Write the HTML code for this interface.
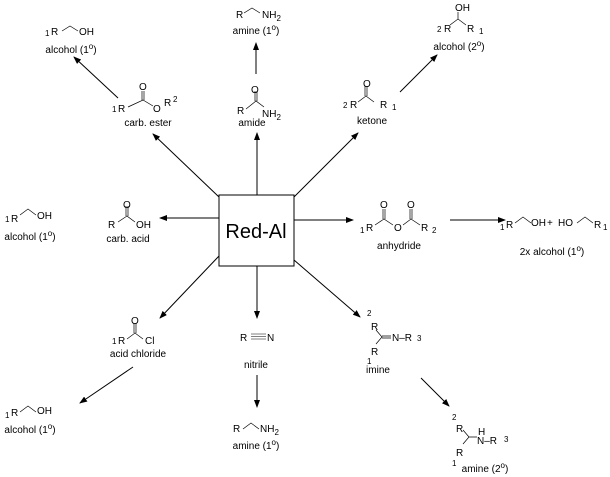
<!DOCTYPE html>
<html><head><style>
html,body{margin:0;padding:0;background:#fff;width:610px;height:477px;overflow:hidden}
svg{display:block}
text{font-family:"Liberation Sans",sans-serif;font-size:10px;fill:#000}
.s{font-size:8px}
</style></head><body>
<svg width="610" height="477" viewBox="0 0 610 477">
<defs><marker id="a" markerWidth="8" markerHeight="6" refX="7" refY="3" orient="auto" markerUnits="userSpaceOnUse"><path d="M0,0 L8,3 L0,6 z" fill="#000"/></marker></defs>
<g stroke="#000" stroke-width="1" fill="none">
<rect x="219" y="195" width="75" height="71" fill="#fff"/>
<line x1="219" y1="197" x2="153" y2="134" marker-end="url(#a)"/>
<line x1="257" y1="195" x2="257" y2="133" marker-end="url(#a)"/>
<line x1="256" y1="74" x2="256" y2="43" marker-end="url(#a)"/>
<line x1="118" y1="98" x2="74" y2="57" marker-end="url(#a)"/>
<line x1="294" y1="197" x2="358" y2="133" marker-end="url(#a)"/>
<line x1="400" y1="92" x2="437" y2="55" marker-end="url(#a)"/>
<line x1="219" y1="218" x2="160" y2="218" marker-end="url(#a)"/>
<line x1="294" y1="220" x2="353" y2="220" marker-end="url(#a)"/>
<line x1="450" y1="220" x2="505" y2="220" marker-end="url(#a)"/>
<line x1="219" y1="256" x2="160" y2="318" marker-end="url(#a)"/>
<line x1="133" y1="367" x2="80" y2="403" marker-end="url(#a)"/>
<line x1="257" y1="266" x2="257" y2="318" marker-end="url(#a)"/>
<line x1="257" y1="375" x2="257" y2="407" marker-end="url(#a)"/>
<line x1="294" y1="260" x2="360" y2="317" marker-end="url(#a)"/>
<line x1="421" y1="378" x2="449" y2="406" marker-end="url(#a)"/>
</g>
<g stroke="#000" stroke-width="0.7" fill="none">
<path d="M62,31 L70,26 L78,31"/>
<path d="M244,13 L252,8 L260,13"/>
<path d="M128,107 L143,100 L153,106 M142,100 V91 M144,100 V91"/>
<path d="M246,109 L256,101 L264,107 M255,101 V91 M257,101 V91"/>
<path d="M358,102 L366,96 L374,102 M365,96 V86 M367,96 V86"/>
<path d="M450,25 L458,19 L466,25 M458,19 V12"/>
<path d="M118,222 L127,216 L135,222 M126,216 V206 M128,216 V206"/>
<path d="M20,215 L28,209 L36,215"/>
<path d="M375,225 L384,219 L393,225 M383,219 V209 M385,219 V209 M403,225 L411,219 L420,225 M410,219 V209 M412,219 V209"/>
<path d="M515,223 L523,217 L531,223 M577,223 L585,217 L593,223"/>
<path d="M127,339 L135,333 L143,339 M134,333 V323 M136,333 V323"/>
<path d="M20,412 L28,406 L36,412"/>
<path d="M251,334 H266 M251,336.5 H266 M251,339 H266" stroke-width="0.5"/>
<path d="M243,429 L251,423 L259,429"/>
<path d="M376,330 L382,337 L376,344 M382,336 H391 M382,338 H391"/>
<path d="M463,430 L469,437 L463,444 M469,437 H477"/>
</g>
<text x="256" y="238" text-anchor="middle" style="font-size:20px">Red-Al</text>
<text x="45" y="36" class="s">1</text><text x="51" y="35">R</text><text x="79" y="35">OH</text>
<text x="71" y="53" text-anchor="middle">alcohol (1<tspan class="s" dy="-4">o</tspan><tspan dy="4">)</tspan></text>
<text x="236" y="18">R</text><text x="262" y="18">NH<tspan class="s" dy="3">2</tspan></text>
<text x="256" y="34" text-anchor="middle">amine (1<tspan class="s" dy="-4">o</tspan><tspan dy="4">)</tspan></text>
<text x="112" y="112" class="s">1</text><text x="118" y="112">R</text><text x="139" y="90">O</text><text x="153" y="112">O</text><text x="164" y="106">R</text><text x="173" y="102" class="s">2</text>
<text x="148" y="126" text-anchor="middle">carb. ester</text>
<text x="237" y="114">R</text><text x="251" y="93">O</text><text x="262" y="117">NH<tspan class="s" dy="3">2</tspan></text>
<text x="252" y="126" text-anchor="middle">amide</text>
<text x="343" y="108" class="s">2</text><text x="350" y="108">R</text><text x="363" y="87">O</text><text x="380" y="108">R</text><text x="392" y="110" class="s">1</text>
<text x="372" y="124" text-anchor="middle">ketone</text>
<text x="455" y="11">OH</text><text x="437" y="32" class="s">2</text><text x="444" y="32">R</text><text x="467" y="32">R</text><text x="479" y="34" class="s">1</text>
<text x="459" y="50" text-anchor="middle">alcohol (2<tspan class="s" dy="-4">o</tspan><tspan dy="4">)</tspan></text>
<text x="108" y="228">R</text><text x="123" y="208">O</text><text x="136" y="228">OH</text>
<text x="128" y="242" text-anchor="middle">carb. acid</text>
<text x="5" y="222" class="s">1</text><text x="11" y="222">R</text><text x="37" y="219">OH</text>
<text x="30" y="240" text-anchor="middle">alcohol (1<tspan class="s" dy="-4">o</tspan><tspan dy="4">)</tspan></text>
<text x="360" y="233" class="s">1</text><text x="366" y="231">R</text><text x="380" y="208">O</text><text x="394" y="231">O</text><text x="407" y="208">O</text><text x="421" y="231">R</text><text x="432" y="233" class="s">2</text>
<text x="399" y="249" text-anchor="middle">anhydride</text>
<text x="500" y="230" class="s">1</text><text x="506" y="228">R</text><text x="531" y="226">OH</text><text x="547" y="226">+</text><text x="558" y="226">HO</text><text x="594" y="228">R</text><text x="603" y="230" class="s">1</text>
<text x="552" y="255" text-anchor="middle">2x alcohol (1<tspan class="s" dy="-4">o</tspan><tspan dy="4">)</tspan></text>
<text x="112" y="344" class="s">1</text><text x="118" y="344">R</text><text x="131" y="324">O</text><text x="145" y="344">Cl</text>
<text x="138" y="357" text-anchor="middle">acid chloride</text>
<text x="5" y="418" class="s">1</text><text x="11" y="416">R</text><text x="37" y="414">OH</text>
<text x="30" y="433" text-anchor="middle">alcohol (1<tspan class="s" dy="-4">o</tspan><tspan dy="4">)</tspan></text>
<text x="240" y="341">R</text><text x="267" y="341">N</text>
<text x="256" y="368" text-anchor="middle">nitrile</text>
<text x="233" y="432">R</text><text x="260" y="432">NH<tspan class="s" dy="3">2</tspan></text>
<text x="256" y="449" text-anchor="middle">amine (1<tspan class="s" dy="-4">o</tspan><tspan dy="4">)</tspan></text>
<text x="367" y="316" class="s">2</text><text x="371" y="330">R</text><text x="392" y="341">N–R</text><text x="417" y="341" class="s">3</text><text x="371" y="355">R</text><text x="367" y="364" class="s">1</text>
<text x="378" y="373" text-anchor="middle">imine</text>
<text x="452" y="420" class="s">2</text><text x="456" y="432">R</text><text x="478" y="435">H</text><text x="477" y="444">N–R</text><text x="504" y="442" class="s">3</text><text x="456" y="456">R</text><text x="452" y="466" class="s">1</text>
<text x="485" y="472" text-anchor="middle">amine (2<tspan class="s" dy="-4">o</tspan><tspan dy="4">)</tspan></text>
</svg>
</body></html>
